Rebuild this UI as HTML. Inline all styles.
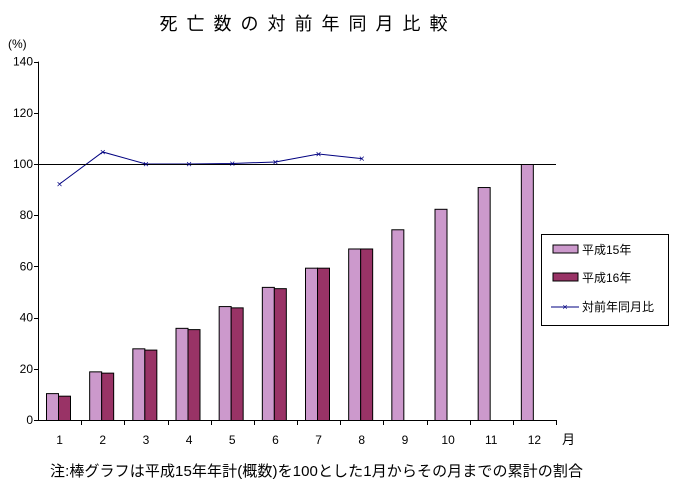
<!DOCTYPE html>
<html><head><meta charset="utf-8"><style>
body{margin:0;background:#fff;width:675px;height:490px;overflow:hidden}
svg text{font-family:"Liberation Sans","Noto Sans CJK JP",sans-serif;fill:#000}
</style></head><body>
<svg id="c" width="675" height="490">
<text x="308" y="30" font-size="18" text-anchor="middle" letter-spacing="9">死亡数の対前年同月比較</text>
<text x="8" y="48" font-size="12">(%)</text>
<text x="562" y="444" font-size="13">月</text>
<text x="50" y="476" font-size="15" textLength="533">注:棒グラフは平成15年年計(概数)を100とした1月からその月までの累計の割合</text>
<g id="plot"></g>
<g>
<rect x="541.5" y="234.5" width="127" height="91" fill="#fff" stroke="#000"/>
<rect x="553" y="245" width="25" height="8" fill="#cc99cc" stroke="#000"/>
<text x="582" y="254" font-size="12">平成15年</text>
<rect x="553" y="273" width="25" height="8" fill="#993366" stroke="#000"/>
<text x="582" y="282" font-size="12">平成16年</text>
<line x1="551" y1="307" x2="579" y2="307" stroke="#000080"/>
<text x="565" y="310" font-size="9" fill="#000080" text-anchor="middle" style="fill:#000080">×</text>
<text x="582" y="311" font-size="12">対前年同月比</text>
</g>
</svg>
<script>
const months=["1","2","3","4","5","6","7","8","9","10","11","12"];
const h15=[10.5,19,28,36,44.5,52,59.5,67,74.5,82.5,91,100];
const h16=[9.5,18.5,27.5,35.5,44,51.5,59.5,67];
const ratio=[92.2,104.7,100,100,100.2,100.8,103.9,102.1];
const yTicks=[0,20,40,60,80,100,120,140];
const NS="http://www.w3.org/2000/svg";
const g=document.getElementById('plot');
const x0=38,x1=556,yb=420,k=2.56,cw=(x1-x0)/12;
const Y=v=>yb-v*k;
const X=i=>x0+cw*i;
function mk(t,a){const e=document.createElementNS(NS,t);for(const n in a)e.setAttribute(n,a[n]);g.appendChild(e);return e;}
let ax=mk('line',{x1:x0+.5,y1:Y(140),x2:x0+.5,y2:yb,stroke:'#000'});


yTicks.forEach(v=>{
 mk('line',{x1:x0-4,x2:x0,y1:Math.round(Y(v))+.5,y2:Math.round(Y(v))+.5,stroke:'#000'});
 const t=mk('text',{x:x0-5,y:Y(v)+4,'font-size':12,'text-anchor':'end'});t.textContent=v;
 
 
});
months.forEach((m,i)=>{
 const b1=mk('rect',{x:X(i)+8.5,y:Y(h15[i])+.5,width:12,height:h15[i]*k,fill:'#cc99cc',stroke:'#000'});
 
 
 if(i<h16.length){
  const b2=mk('rect',{x:X(i)+20.5,y:Y(h16[i])+.5,width:12,height:h16[i]*k,fill:'#993366',stroke:'#000'});
  
  
 }
 mk('line',{x1:Math.round(X(i+1))+.5,x2:Math.round(X(i+1))+.5,y1:yb,y2:yb+5,stroke:'#000'});
 const t=mk('text',{x:X(i)+cw/2,y:yb+24,'font-size':12,'text-anchor':'middle'});t.textContent=m;
 
 
});
let xa=mk('line',{x1:x0,y1:yb+.5,x2:x1,y2:yb+.5,stroke:'#000'});


const pts=ratio.map((v,i)=>[X(i)+cw/2,Y(v)]);
const pl=mk('polyline',{points:pts.map(p=>p.join(',')).join(' '),fill:'none',stroke:'#000080','stroke-width':1});


let ref=mk('line',{x1:x0,y1:Math.round(Y(100))+.5,x2:x1,y2:Math.round(Y(100))+.5,stroke:'#000'});


pts.forEach((p,i)=>{
 const t=mk('text',{x:p[0],y:p[1]+3.5,'font-size':10,'text-anchor':'middle',style:'fill:#000080'});t.textContent='×';
 
 
});
</script>
</body></html>
